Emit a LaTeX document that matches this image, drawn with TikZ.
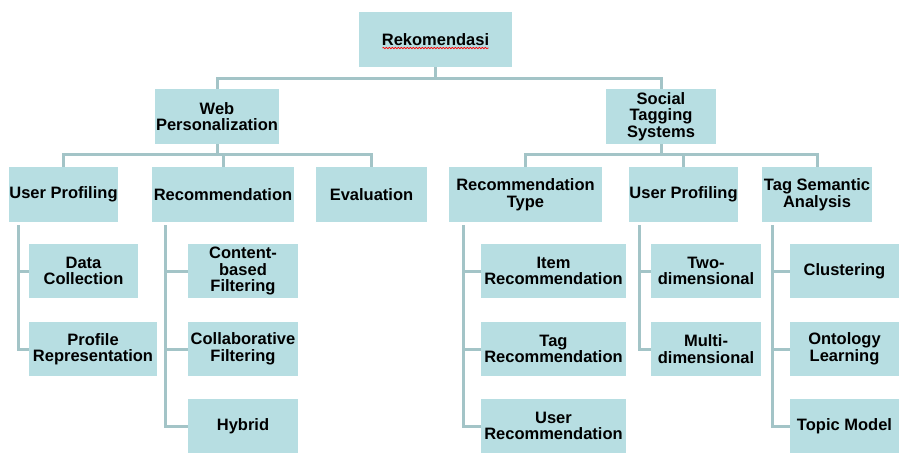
\documentclass[tikz,border=0pt]{standalone}
\usepackage{fontspec}
\setmainfont{Liberation Sans}
\usetikzlibrary{decorations.pathmorphing}
\definecolor{boxfill}{RGB}{183,222,226}
\definecolor{linec}{RGB}{163,196,199}
\begin{document}
\begin{tikzpicture}[x=1pt,y=-1pt,
  box/.style={fill=boxfill, draw=none, inner sep=0pt, align=center,
    font=\fontsize{16.5}{16.5}\selectfont\bfseries, minimum height=55pt},
  sub/.style={box, minimum height=54pt},
  conn/.style={draw=linec, line width=3pt}]
\fill[white] (0,0) rectangle (908,464);
\useasboundingbox (0,0) rectangle (908,464);

% level 0 and 1
\node[box, minimum width=153pt] (rek) at (435.5,39.5) {Rekomendasi};
\node[box, minimum width=124pt] (web) at (217,116.5) {Web\\Personalization};
\node[box, minimum width=110pt] (soc) at (661,116.5) {Social\\Tagging\\Systems};

% level 2
\node[box, minimum width=109pt] (up1) at (63.5,194.5) {User Profiling};
\node[box, minimum width=142pt] (rec1) at (223,194.5) {Recommendation};
\node[box, minimum width=111pt] (eval) at (371.5,194.5) {Evaluation};
\node[box, minimum width=153pt] (rtype) at (525.5,194.5) {Recommendation\\Type};
\node[box, minimum width=109pt] (up2) at (683.5,194.5) {User Profiling};
\node[box, minimum width=110pt] (tsa) at (817,194.5) {Tag Semantic\\Analysis};

% level 3
\node[sub, minimum width=109pt] (dc) at (83.5,271) {Data\\Collection};
\node[sub, minimum width=128pt] (pr) at (93,349) {Profile\\Representation};
\node[sub, minimum width=110pt] (cbf) at (243,271) {Content-\\based\\Filtering};
\node[sub, minimum width=110pt] (cf) at (243,349) {Collaborative\\Filtering};
\node[sub, minimum width=110pt] (hyb) at (243,426) {Hybrid};
\node[sub, minimum width=145pt] (item) at (553.5,271) {Item\\Recommendation};
\node[sub, minimum width=145pt] (tag) at (553.5,349) {Tag\\Recommendation};
\node[sub, minimum width=145pt] (user) at (553.5,426) {User\\Recommendation};
\node[sub, minimum width=110pt] (two) at (706,271) {Two-\\dimensional};
\node[sub, minimum width=110pt] (multi) at (706,349) {Multi-\\dimensional};
\node[sub, minimum width=109pt] (clus) at (844.5,271) {Clustering};
\node[sub, minimum width=109pt] (onto) at (844.5,349) {Ontology\\Learning};
\node[sub, minimum width=109pt] (topic) at (844.5,426) {Topic Model};

% spell-check underline
\draw[red, line width=0.7pt, decorate,
  decoration={snake, segment length=3pt, amplitude=0.7pt}]
  ([xshift=-53pt,yshift=-8.5pt]rek.center) -- ([xshift=53pt,yshift=-8.5pt]rek.center);

% connectors level 0-1
\draw[conn] (rek.south) -- ++(0,12);
\draw[conn] (web.north) -- ++(0,-10) -| (soc.north);

% connectors level 1-2
\draw[conn] (web.south) -- ++(0,11);
\draw[conn] (up1.north) -- ++(0,-12) -| (eval.north);
\draw[conn] (rec1.north) -- ++(0,-12);
\draw[conn] (soc.south) -- ++(0,11);
\draw[conn] (rtype.north) -- ++(0,-12) -| (tsa.north);
\draw[conn] (up2.north) -- ++(0,-12);

% connectors level 2-3
\coordinate (t1) at (18,225);
\coordinate (t2) at (165,225);
\coordinate (t3) at (463,225);
\coordinate (t4) at (639,225);
\coordinate (t5) at (772,225);
\draw[conn] (t1) |- (dc.west);
\draw[conn] (t1) |- (pr.west);
\draw[conn] (t2) |- (cbf.west);
\draw[conn] (t2) |- (cf.west);
\draw[conn] (t2) |- (hyb.west);
\draw[conn] (t3) |- (item.west);
\draw[conn] (t3) |- (tag.west);
\draw[conn] (t3) |- (user.west);
\draw[conn] (t4) |- (two.west);
\draw[conn] (t4) |- (multi.west);
\draw[conn] (t5) |- (clus.west);
\draw[conn] (t5) |- (onto.west);
\draw[conn] (t5) |- (topic.west);
\end{tikzpicture}
\end{document}
